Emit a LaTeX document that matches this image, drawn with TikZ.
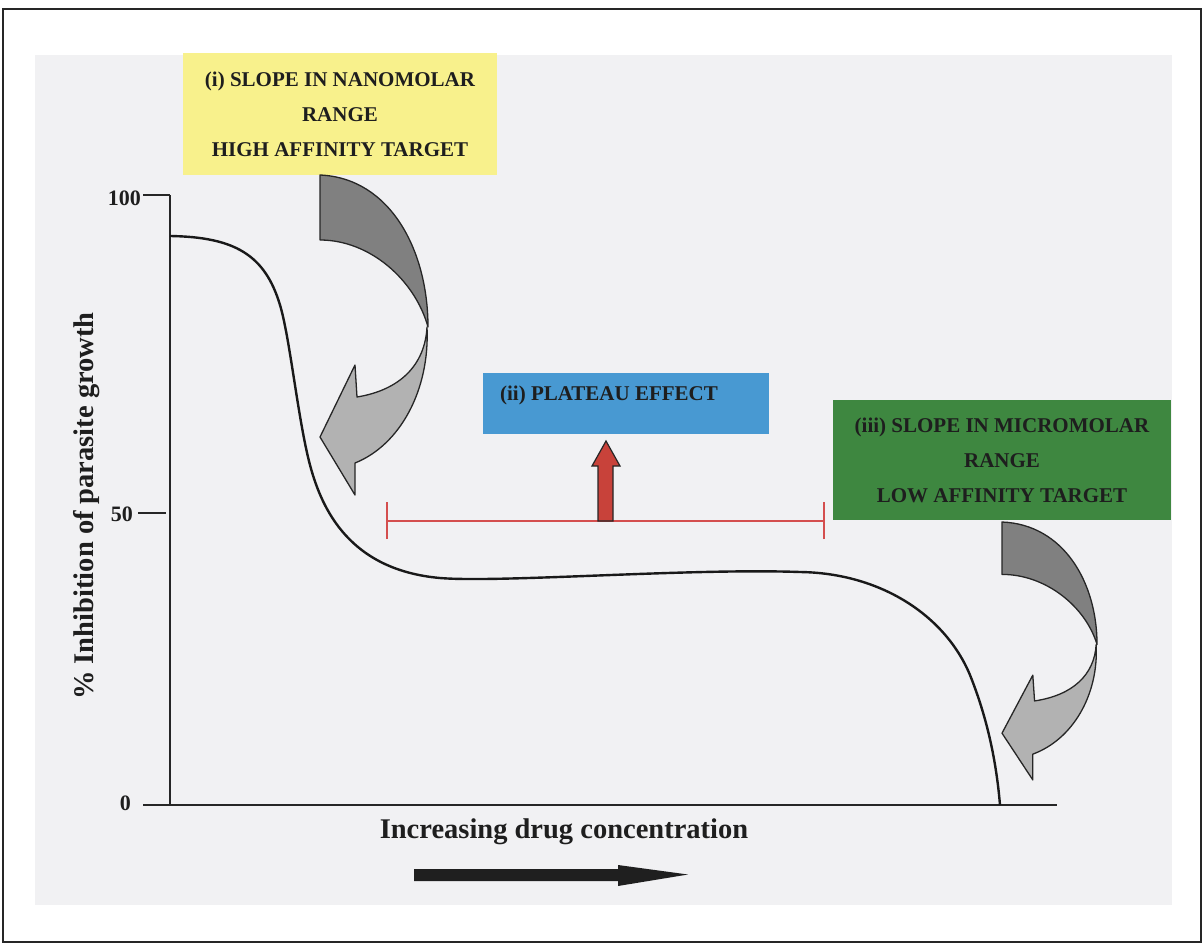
\documentclass[tikz,border=0pt]{standalone}
\usepackage{fontspec}
\setmainfont{Liberation Serif}
\usetikzlibrary{arrows.meta}
\definecolor{bggray}{RGB}{241,241,243}
\definecolor{yellowbox}{RGB}{248,241,140}
\definecolor{bluebox}{RGB}{72,153,210}
\definecolor{greenbox}{RGB}{62,135,64}
\definecolor{plateaured}{RGB}{212,78,78}
\definecolor{arrowred}{RGB}{200,66,58}
\definecolor{darkpart}{RGB}{128,128,128}
\definecolor{lightpart}{RGB}{178,178,178}
\definecolor{textdark}{RGB}{30,30,30}
\tikzset{
  box/.style={inner sep=0pt, align=center, font=\fontsize{21}{35}\selectfont\bfseries, text=textdark},
  boxtext/.style={inner sep=0pt, font=\fontsize{21}{25}\selectfont\bfseries, text=textdark},
  ticklabel/.style={inner sep=0pt, font=\fontsize{22}{26}\selectfont\bfseries, text=textdark},
  axislabel/.style={inner sep=0pt, font=\fontsize{28.5}{32}\selectfont\bfseries, text=textdark},
  axisline/.style={line width=2.4pt, black!85},
  tickline/.style={line width=1.2pt, black!85},
  arrowdark/.style={fill=darkpart, draw=black!85, line width=1.3pt, line join=round},
  arrowlight/.style={fill=lightpart, draw=black!85, line width=1.3pt, line join=round},
  curvarrow/.pic={
    \path[arrowdark] (0,0) .. controls (70,3) and (108,75) .. (108,152)
       .. controls (95,105) and (50,65) .. (0,65) -- cycle;
    \path[arrowlight] (107,152) .. controls (110,215) and (80,270) .. (35,288)
       -- (35,320) -- (0,262) -- (35,190) -- (37,222)
       .. controls (80,215) and (105,190) .. (107,152) -- cycle;
  }
}
\begin{document}
\begin{tikzpicture}[x=1pt,y=-1pt]
\useasboundingbox (0,0) rectangle (1204,945);
\fill[white] (0,0) rectangle (1204,945);
\fill[bggray] (35,55) rectangle (1172,905);
\draw[line width=2pt, black!85] (3,9) rectangle (1201,942);

% boxes
\node[box, fill=yellowbox, minimum width=314pt, minimum height=122pt] (nano) at (340,114)
  {(i) SLOPE IN NANOMOLAR\\RANGE\\HIGH AFFINITY TARGET};
\node[box, fill=greenbox, minimum width=338pt, minimum height=120pt] (micro) at (1002,460)
  {(iii) SLOPE IN MICROMOLAR\\RANGE\\LOW AFFINITY TARGET};
\node[box, fill=bluebox, minimum width=286pt, minimum height=61pt] (plateau) at (626,403.5) {};
\node[boxtext] (plateautext) at (609,395) {(ii) PLATEAU EFFECT};

% axes
\coordinate (ytop) at (170,195);
\coordinate (origin) at (170,805);
\coordinate (xend) at (1057,805);
\coordinate (xstart) at (143,805);
\draw[axisline] (ytop) -- (origin);
\draw[axisline] (xstart) -- (xend);
\coordinate (t100) at (143,195);
\coordinate (t50a) at (138,513);
\coordinate (t50b) at (166,513);
\draw[tickline] (t100) -- (ytop);
\draw[tickline] (t50a) -- (t50b);
\node[ticklabel, anchor=east] (l100) at (141,198) {100};
\node[ticklabel, anchor=east] (l50) at (133,514) {50};
\node[ticklabel, anchor=east] (l0) at (131,803) {0};
\node[axislabel, rotate=90] (ylab) at (87,506) {\% Inhibition of parasite growth};
\node[axislabel] (xlab) at (564,832) {Increasing drug concentration};

% curve
\draw[line width=2.4pt, black!90]
  (170,236) .. controls (235,237) and (265,255) .. (280,305)
  .. controls (290,338) and (298,420) .. (310,465)
  .. controls (322,510) and (350,570) .. (440,578)
  .. controls (500,583) and (690,568) .. (800,572)
  .. controls (880,573) and (945,615) .. (970,675)
  .. controls (990,725) and (997,770) .. (1000,805);

% plateau bar
\coordinate (pl) at (387,521);
\coordinate (pr) at (824,521);
\draw[plateaured, line width=2pt] (pl) -- (pr);
\draw[plateaured, line width=2pt] ([yshift=-18pt]pl) -- ([yshift=19pt]pl);
\draw[plateaured, line width=2pt] ([yshift=-18pt]pr) -- ([yshift=19pt]pr);
\draw[fill=arrowred, draw=black!85, line width=1.2pt, line join=miter]
  (598,521) -- (598,466) -- (592,466) -- (606,441) -- (620,466) -- (613,466) -- (613,521) -- cycle;

% curved arrows
\pic at (320,175) {curvarrow};
\pic[xscale=0.88, yscale=0.806] at (1002,522) {curvarrow};

% bottom arrow
\fill[black!88] (414,869) -- (618,869) -- (618,865) -- (688,874.5) -- (618,886) -- (618,881) -- (414,881) -- cycle;
\end{tikzpicture}
\end{document}
